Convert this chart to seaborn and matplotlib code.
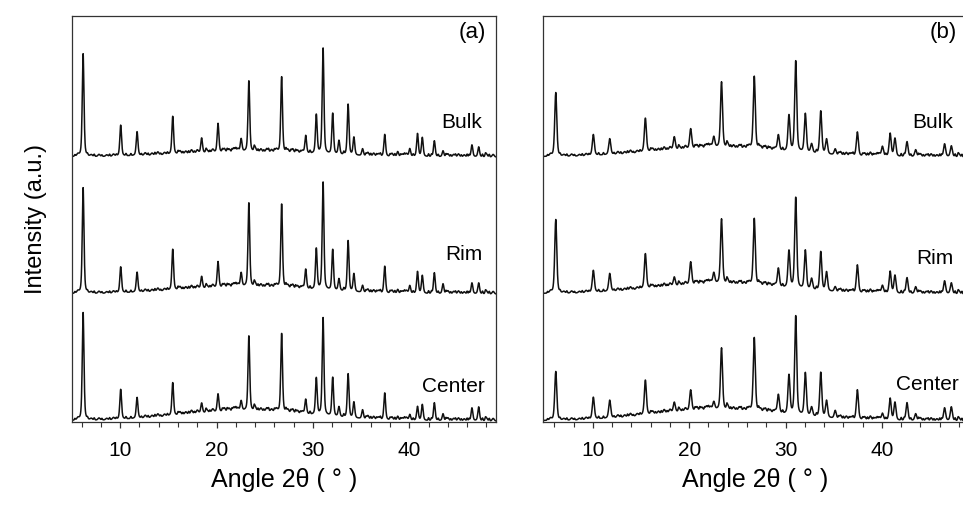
import numpy as np
import pandas as pd
import matplotlib
matplotlib.use("Agg")
import matplotlib.pyplot as plt
from matplotlib.ticker import MultipleLocator
import seaborn as sns

# Reflection positions (2θ, degrees)
peak_pos = [6.15, 10.05, 11.75, 15.45, 18.45, 20.15, 22.55, 23.35, 26.75, 29.25,
            30.35, 31.05, 32.05, 32.7, 33.65, 34.25, 35.15, 37.45, 38.8, 40.05,
            40.85, 41.35, 42.6, 43.5, 46.5, 47.2]

# Peak heights above background, sample set (a)
a_bulk = [103, 31, 24, 38, 15, 29, 13, 71, 76, 18, 39, 106, 41, 14, 51, 18, 7, 22, 5,
          8, 23, 19, 16, 6, 12, 10]
a_rim = [106, 26, 20, 41, 12, 26, 14, 84, 84, 20, 41, 108, 41, 12, 51, 18, 7, 27, 4,
         8, 22, 18, 21, 10, 11, 11]
a_center = [108, 30, 21, 33, 10, 18, 10, 75, 79, 15, 37, 98, 39, 10, 44, 16, 9, 27, 4,
            6, 14, 16, 18, 7, 13, 14]

# Peak heights above background, sample set (b)
b_bulk = [64, 21, 16, 34, 13, 20, 11, 66, 73, 16, 36, 91, 39, 9, 43, 15, 6, 24, 4,
          10, 23, 18, 15, 7, 13, 11]
b_rim = [74, 22, 18, 35, 9, 23, 11, 65, 67, 19, 37, 91, 39, 11, 39, 19, 5, 28, 4,
         8, 22, 18, 16, 7, 13, 11]
b_center = [49, 22, 18, 35, 10, 21, 8, 62, 74, 19, 39, 99, 43, 9, 45, 17, 8, 30, 4,
            7, 22, 18, 18, 7, 13, 14]

# Weak background reflections
minor_pos = [5.6, 7.0, 7.8, 8.6, 9.3, 12.6, 13.3, 13.9, 14.6, 16.2, 16.8, 17.4, 18.0,
             19.0, 19.6, 20.8, 21.3, 21.8, 22.2, 24.0, 24.6, 25.2, 25.7, 26.2, 27.4,
             27.9, 28.4, 28.9, 35.7, 36.3, 36.8, 38.2, 39.3, 39.7, 44.0, 44.6, 45.1,
             45.7, 48.0, 48.7]
minor_amp = [2, 1.5, 2, 1.5, 2, 2.5, 2, 3, 2, 3, 2.5, 3.5, 3, 2.5, 3, 3.5, 3, 4, 3,
             4, 3, 3.5, 2.5, 3, 3, 4, 3, 2.5, 3.5, 3, 2.5, 3, 2.5, 3, 3, 2.5, 3, 2, 3, 2.5]

# Counting-noise spikes on the baseline
spike_pos = [5.3, 6.6, 7.3, 8.1, 8.9, 9.6, 10.6, 11.1, 12.2, 12.9, 13.6, 14.2, 14.9,
             16.0, 16.5, 17.1, 17.7, 18.9, 19.3, 20.6, 21.1, 21.6, 22.0, 23.9, 24.3,
             24.9, 25.4, 26.0, 27.2, 27.7, 28.2, 28.7, 29.7, 33.2, 35.5, 36.0, 36.6,
             37.0, 38.0, 38.5, 39.1, 39.5, 40.4, 42.0, 42.3, 43.0, 43.8, 44.3, 44.8,
             45.4, 46.0, 46.2, 47.6, 47.9, 48.3]
spike_amp = [1.5, 1.5, 2, 1.5, 2, 1.5, 2, 2, 1.5, 2, 2.5, 1.5, 2, 2.5, 2, 2.5, 2, 2.5,
             2, 2.5, 3, 2.5, 3, 3, 2.5, 2, 3, 2.5, 3, 2.5, 3, 2, 2.5, 2.5, 2, 2.5, 2,
             2.5, 2, 2.5, 2, 2.5, 2, 2.5, 2, 2, 2.5, 2, 2.5, 2, 2.5, 2, 2.5, 2, 2.5]

# Amorphous halo height for each pattern
halo_a = [5, 7, 10]
halo_b = [9, 10, 11]

samples = ["Bulk", "Rim", "Center"]
offsets = [265, 128, 1]


def pattern(x, heights, halo, fwhm):
    y = halo * np.exp(-4 * np.log(2) * (x - 23.0) ** 2 / 16.0 ** 2)
    for pos, h in zip(peak_pos, heights):
        d = 4 * (x - pos) ** 2 / fwhm ** 2
        y += h * (0.55 * np.exp(-np.log(2) * d) + 0.45 / (1 + d))
    for pos, h in zip(minor_pos, minor_amp):
        d = 4 * (x - pos) ** 2 / 0.25 ** 2
        y += h * np.exp(-np.log(2) * d)
    for pos, h in zip(spike_pos, spike_amp):
        d = 4 * (x - pos) ** 2 / 0.12 ** 2
        y += h * np.exp(-np.log(2) * d)
    return y


sns.set_theme(style="white")
plt.rcParams["font.family"] = ["Liberation Sans", "DejaVu Sans"]
plt.rcParams["text.color"] = "black"
plt.rcParams["axes.labelcolor"] = "black"
plt.rcParams["xtick.color"] = "black"

fig = plt.figure(figsize=(9.63, 5.05), dpi=100)
ax_a = fig.add_axes([0.0748, 0.1644, 0.4403, 0.804])
ax_b = fig.add_axes([0.5639, 0.1644, 0.4403, 0.804])

panels = [
    (ax_a, [a_bulk, a_rim, a_center], halo_a, 0.21, (5.0, 49.0), "(a)"),
    (ax_b, [b_bulk, b_rim, b_center], halo_b, 0.25, (4.83, 48.83), "(b)"),
]

for ax, sets, halos, fwhm, xlim, tag in panels:
    x = np.linspace(xlim[0], xlim[1], 2600)
    frames = []
    for name, heights, halo, off in zip(samples, sets, halos, offsets):
        frames.append(pd.DataFrame({"angle": x,
                                    "intensity": off + pattern(x, heights, halo, fwhm),
                                    "sample": name}))
    df = pd.concat(frames, ignore_index=True)
    sns.lineplot(data=df, x="angle", y="intensity", units="sample", estimator=None,
                 color="#111111", lw=1.1, ax=ax, legend=False)
    ax.set_xlim(*xlim)
    ax.set_ylim(0, 406)
    ax.set_yticks([])
    ax.xaxis.set_major_locator(MultipleLocator(10))
    ax.xaxis.set_minor_locator(MultipleLocator(2))
    ax.tick_params(axis="x", which="major", direction="out", length=4.5, width=0.9,
                   color="#333333", labelsize=15, pad=9, bottom=True)
    ax.tick_params(axis="x", which="minor", direction="out", length=3.5, width=0.8,
                   color="#333333", bottom=True)
    for sp in ax.spines.values():
        sp.set_color("#333333")
        sp.set_linewidth(0.9)
    ax.set_xlabel("Angle 2θ ( ° )", fontsize=18, labelpad=6)
    ax.set_ylabel("")
    right = xlim[1] - 1.05
    ax.text(right, 389, tag, ha="right", va="center", fontsize=16)

ax_a.set_ylabel("Intensity (a.u.)", fontsize=17, labelpad=18)

label_y_a = [299, 167, 35]
label_y_b = [299, 163, 37]
for name, ya, yb in zip(samples, label_y_a, label_y_b):
    ax_a.text(47.6 if name != "Center" else 47.85, ya, name, ha="right", va="center", fontsize=15)
    ax_b.text(47.4 if name != "Center" else 47.95, yb, name, ha="right", va="center", fontsize=15)

fig.savefig("out.png", dpi=100)
